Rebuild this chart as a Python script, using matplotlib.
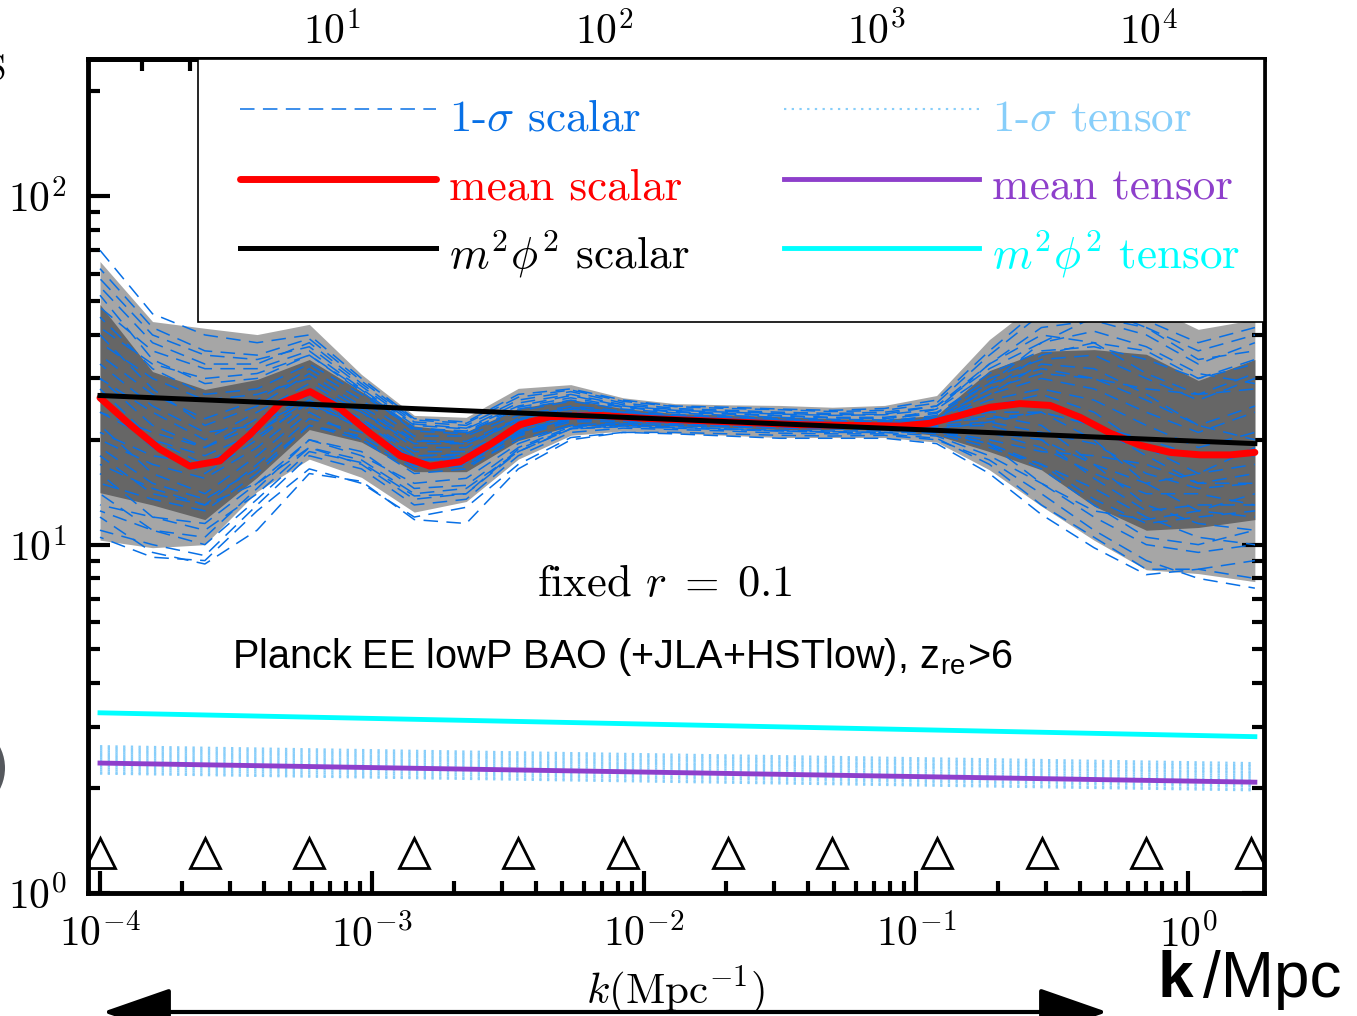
import matplotlib
matplotlib.use("Agg")
import matplotlib.pyplot as plt
from matplotlib.ticker import LogLocator, NullFormatter
from matplotlib.patches import Circle, FancyArrowPatch, Rectangle

plt.rcParams['mathtext.fontset'] = 'cm'

# k nodes (Mpc^-1) for the bands and the sample curves
k_nodes = [1.00e-4, 1.56e-4, 2.43e-4, 3.78e-4, 5.88e-4, 9.15e-4, 1.43e-3, 2.22e-3,
           3.45e-3, 5.38e-3, 8.37e-3, 1.30e-2, 2.03e-2, 3.16e-2, 4.92e-2, 7.66e-2,
           0.119, 0.186, 0.289, 0.451, 0.702, 1.09, 1.76]

# 2-sigma (light) and 1-sigma (dark) scalar bands
band2_hi = [65.0, 43.7, 41.8, 40.1, 42.9, 30.8, 23.5, 23.2, 28.1, 28.8, 26.4, 25.4,
            25.2, 25.1, 24.8, 25.1, 26.8, 38.8, 50.6, 52.2, 48.9, 41.5, 44.3]
band1_hi = [48.9, 31.4, 27.9, 29.8, 34.0, 27.5, 21.9, 21.1, 24.6, 26.1, 24.6, 23.8,
            23.6, 23.3, 23.0, 22.9, 23.5, 31.6, 35.9, 36.3, 35.2, 29.6, 34.0]
band1_lo = [14.1, 13.0, 11.8, 15.6, 21.4, 19.7, 16.2, 16.2, 19.9, 21.9, 22.0, 21.9,
            21.7, 21.4, 21.4, 21.3, 20.6, 18.5, 16.4, 12.9, 11.0, 11.2, 11.8]
band2_lo = [10.3, 9.8, 10.0, 14.2, 17.6, 15.6, 12.4, 13.3, 17.6, 20.6, 21.2, 20.9,
            20.6, 20.3, 20.3, 20.3, 19.7, 16.4, 12.9, 10.3, 8.47, 8.26, 7.83]

# individual scalar spectra (1-sigma scalar samples)
sample_01 = [70, 46, 40, 38, 40, 30, 23, 22.5, 27, 28, 26, 25, 24.8, 24.5, 24.3, 24.6, 26, 36, 48, 50, 44, 38, 42]
sample_02 = [10.5, 9.2, 9.0, 12.5, 16.5, 15.0, 12.0, 12.8, 17.0, 20.3, 21.0, 20.8, 20.5, 20.2, 20.2, 20.2, 19.5, 16.0, 12.2, 9.8, 8.2, 8.5, 8.0]
sample_03 = [30, 24, 20, 24, 29, 24, 19, 19, 23, 24.5, 23.8, 23.4, 23.0, 22.8, 22.4, 22.3, 23.0, 27, 30, 28, 24, 21, 24]
sample_04 = [22, 16, 14, 18, 24, 20, 16, 16.5, 20.5, 22.5, 22.6, 22.3, 22.0, 21.8, 21.6, 21.5, 21.5, 21, 19, 16, 14, 14, 13]
sample_05 = [45, 32, 27, 28, 33, 27, 21.5, 21, 24.5, 26, 24.8, 24.0, 23.7, 23.4, 23.1, 23.0, 23.8, 30, 34, 35, 30, 26, 30]
sample_06 = [15, 13.5, 12.5, 16, 22, 20, 16.5, 16.8, 20, 22, 22.2, 22.0, 21.8, 21.6, 21.5, 21.4, 20.8, 19, 17, 13.5, 11.5, 12, 12.5]
sample_07 = [40, 28, 22, 25, 31, 25, 20, 19.5, 22.5, 24, 23.5, 23.2, 22.8, 22.4, 22.0, 21.8, 21.2, 19.5, 15, 12, 10, 9.5, 10]
sample_08 = [13, 12, 11.5, 15, 20, 18, 15, 15.5, 19.5, 22, 22.4, 22.4, 22.3, 22.3, 22.4, 22.6, 24.5, 33, 42, 44, 40, 33, 38]
sample_09 = [12, 9.5, 8.8, 11, 16, 15.2, 11.8, 11.5, 16.5, 20, 21, 21, 20.8, 20.6, 20.5, 20.6, 20.0, 17.5, 14, 11, 9, 8, 7.5]
sample_10 = [55, 38, 33, 33, 38, 29, 22.5, 22, 26, 27.5, 25.5, 24.6, 24.3, 24.0, 23.8, 24.0, 25, 33, 40, 38, 31, 27, 28]
sample_11 = [26, 19, 16, 20, 26, 22, 17.5, 17.8, 21.5, 23.5, 23.3, 23.0, 22.7, 22.4, 22.1, 22.0, 22.6, 25, 27, 24, 19, 16, 17]
sample_12 = [18, 14, 13, 17, 23, 21, 17, 17.2, 21, 23, 23, 22.8, 22.5, 22.2, 22, 21.9, 22.2, 23.5, 22, 17, 13, 11.5, 11]
sample_13 = [35, 27, 23, 26, 32, 26, 20.5, 20.5, 23.5, 25, 24.2, 23.6, 23.3, 23.0, 22.7, 22.5, 23.2, 28, 31, 30, 26, 22, 20]
sample_14 = [17, 14.5, 13, 15, 19, 17.5, 14, 14.5, 18.5, 21.5, 22, 21.8, 21.5, 21.2, 21.0, 21.0, 20.5, 18, 15, 12.5, 11.8, 12.5, 14]
sample_15 = [48, 36, 32, 32, 36, 28, 22, 21.5, 25, 26.8, 25, 24.3, 24, 23.7, 23.5, 23.6, 24.5, 31, 36, 37, 34, 30, 34]
sample_16 = [24, 21, 19, 22, 27, 23, 18.5, 18.5, 22, 24, 23.6, 23.2, 22.8, 22.5, 22.2, 22.1, 22.0, 22.5, 21, 19.5, 16, 14.5, 15]
sample_17 = [11, 10, 9.3, 13, 18, 16.5, 13, 13.5, 18, 21, 21.6, 21.4, 21.2, 20.9, 20.8, 20.8, 20.2, 17, 13, 10.5, 8.5, 8.5, 9]
sample_18 = [30, 22, 19, 23, 28, 24, 19.5, 19.5, 22.8, 24.6, 24, 23.5, 23.2, 22.9, 22.6, 22.6, 23.5, 29, 38, 45, 42, 36, 40]
sample_19 = [20, 17, 15.5, 19, 25, 22, 17.5, 17.8, 21.2, 23.2, 23.1, 22.9, 22.6, 22.3, 22.0, 21.9, 21.8, 22, 20, 15.5, 12.5, 13, 13]
sample_20 = [62, 42, 36, 35, 39, 29.5, 22.8, 22.3, 26.5, 27.8, 25.8, 24.9, 24.6, 24.4, 24.1, 24.3, 25.5, 35, 46, 48, 42, 34, 36]
sample_21 = [38, 30, 26, 27, 30, 24.5, 19.8, 19.8, 23, 24.8, 24.0, 23.4, 23.0, 22.7, 22.4, 22.2, 22.8, 26, 28, 26, 22, 19, 21]
sample_22 = [14, 11, 10.5, 14.5, 20, 18.5, 14.5, 14.8, 19, 21.8, 22.2, 22.1, 21.9, 21.7, 21.6, 21.6, 21.5, 21, 20, 17, 15, 16, 19]
sample_23 = [52, 34, 29, 30, 35, 27.5, 21.2, 20.8, 24.2, 25.8, 24.5, 23.9, 23.5, 23.2, 22.9, 22.8, 22.5, 23, 24, 20, 15, 12.5, 12]
sample_24 = [21, 18, 17, 20.5, 25.5, 21.5, 17.5, 17.5, 21, 23, 23, 22.7, 22.4, 22.1, 21.9, 21.8, 22.6, 27, 33, 32, 27, 22, 25]
sample_25 = [28, 20, 17, 21, 27, 23, 18, 18.2, 21.8, 23.8, 23.4, 23.1, 22.8, 22.5, 22.2, 22.1, 23.0, 28, 35, 38, 36, 30, 33]
sample_26 = [16, 12, 11, 14, 19, 17, 13.5, 14, 18.5, 21.5, 21.8, 21.6, 21.4, 21.2, 21.1, 21.0, 21.0, 19.5, 17, 14.5, 12, 10.5, 10]
sample_27 = [42, 33, 30, 31, 35, 27.8, 21.6, 21.2, 24.8, 26.4, 24.9, 24.1, 23.8, 23.5, 23.2, 23.2, 24.0, 29, 32, 30, 28, 27, 31]
sample_28 = [33, 25, 21, 22, 26, 22.5, 18, 18, 21.5, 23.6, 23.4, 23.0, 22.7, 22.4, 22.1, 22.0, 22.4, 24, 24, 22, 20, 18, 18]
sample_29 = [19, 15, 13.5, 16.5, 22, 20.5, 16.8, 17, 20.8, 22.8, 22.8, 22.6, 22.3, 22.0, 21.8, 21.7, 21.2, 20, 18.5, 18, 17, 15, 16]
sample_30 = [58, 40, 35, 34, 37, 28.5, 22.2, 21.6, 25.5, 27.0, 25.2, 24.4, 24.1, 23.8, 23.6, 23.7, 25.0, 32, 38, 41, 37, 31, 29]
sample_31 = [12.5, 11, 10, 13.5, 18.5, 17.2, 13.8, 14, 18.8, 21.6, 21.9, 21.7, 21.5, 21.3, 21.2, 21.2, 21.4, 22.5, 24, 22, 18, 15, 15]
sample_32 = [24, 20, 18, 21, 26, 22, 17.6, 17.4, 20.6, 22.8, 23.0, 22.8, 22.5, 22.2, 22.0, 21.9, 21.2, 19.5, 16.5, 13, 10.5, 10, 11]
samples = [sample_01, sample_02, sample_03, sample_04, sample_05, sample_06, sample_07, sample_08,
           sample_09, sample_10, sample_11, sample_12, sample_13, sample_14, sample_15, sample_16,
           sample_17, sample_18, sample_19, sample_20, sample_21, sample_22, sample_23, sample_24,
           sample_25, sample_26, sample_27, sample_28, sample_29, sample_30, sample_31, sample_32]
dash_offsets = [0, 7, 3, 11, 5, 13, 1, 9, 4, 12, 6, 2, 10, 8, 14, 3.5,
                0.5, 7.5, 11.5, 5.5, 9.5, 13.5, 2.5, 6.5, 1.5, 8.5, 12.5, 4.5, 10.5, 14.5, 6, 2]

# mean scalar spectrum
k_mean = [1.00e-4, 1.29e-4, 1.66e-4, 2.14e-4, 2.76e-4, 3.56e-4, 4.59e-4, 5.92e-4, 7.62e-4,
          9.83e-4, 1.27e-3, 1.63e-3, 2.11e-3, 2.72e-3, 3.50e-3, 4.51e-3, 6.89e-3, 1.05e-2,
          1.61e-2, 2.45e-2, 3.75e-2, 5.72e-2, 8.73e-2, 0.112, 0.145, 0.187, 0.241, 0.311,
          0.401, 0.517, 0.666, 0.859, 1.11, 1.43, 1.76]
mean_scalar = [26.4, 22.1, 18.8, 16.8, 17.4, 20.7, 25.4, 27.5, 24.6, 20.9, 18.0, 16.8, 17.3,
               19.4, 22.1, 23.3, 23.5, 23.0, 22.7, 22.4, 22.1, 22.0, 21.9, 22.3, 23.5, 24.8,
               25.4, 25.1, 23.2, 20.9, 19.3, 18.4, 18.1, 18.1, 18.4]

# m^2 phi^2 model and tensor spectra (power laws, given at the two ends)
k_ends = [1.0e-4, 1.76]
m2phi2_scalar = [26.8, 19.5]
m2phi2_tensor = [3.29, 2.81]
mean_tensor = [2.36, 2.08]
tensor_sigma_start = [2.20, 2.22, 2.25, 2.28, 2.31, 2.34, 2.37, 2.40, 2.43, 2.46,
                      2.49, 2.52, 2.55, 2.58, 2.61, 2.64]
tensor_sigma_end = [1.97, 1.99, 2.02, 2.04, 2.07, 2.10, 2.12, 2.15, 2.18, 2.21,
                    2.23, 2.26, 2.28, 2.31, 2.33, 2.36]

# knot positions (triangles)
knots = [1.0e-4, 2.43e-4, 5.88e-4, 1.43e-3, 3.45e-3, 8.37e-3, 2.03e-2, 4.92e-2, 0.119, 0.290, 0.702, 1.70]
knot_level = [1.30] * len(knots)

BLUE = '#0870E6'
PURPLE = '#8E3FCB'

fig = plt.figure(figsize=(13.57, 10.16), dpi=100)
ax = fig.add_axes([0.0648, 0.1211, 0.8666, 0.8209])
ax.set_xscale('log')
ax.set_yscale('log')

ax.fill_between(k_nodes, band2_lo, band2_hi, color='#A6A6A6', lw=0, zorder=1)
ax.fill_between(k_nodes, band1_lo, band1_hi, color='#666666', lw=0, zorder=2)

sample_lines = []
for s, off in zip(samples, dash_offsets):
    ln, = ax.plot(k_nodes, s, color=BLUE, lw=1.1, ls=(off, (9.5, 5.5)), zorder=3)
    sample_lines.append(ln)

tensor_lines = []
for a, b in zip(tensor_sigma_start, tensor_sigma_end):
    ln, = ax.plot(k_ends, [a, b], color='#87CEFA', lw=1.5, ls=(0, (1.1, 2.6)), zorder=3)
    tensor_lines.append(ln)

red, = ax.plot(k_mean, mean_scalar, color='red', lw=5, zorder=5, solid_capstyle='round')
blk, = ax.plot(k_ends, m2phi2_scalar, color='black', lw=3.6, zorder=6)
pur, = ax.plot(k_ends, mean_tensor, color=PURPLE, lw=3.5, zorder=5)
cya, = ax.plot(k_ends, m2phi2_tensor, color='cyan', lw=3.5, zorder=5)

ax.plot(knots, knot_level, ls='none', marker='^', ms=21.5, mfc='none', mec='black', mew=2.0, zorder=6)

ax.set_xlim(9.03e-5, 1.90)
ax.set_ylim(1, 248)

for sp in ax.spines.values():
    sp.set_linewidth(3.5)
ax.set_xticks([1e-4, 1e-3, 1e-2, 1e-1, 1],
              labels=[r'$10^{-4}$', r'$10^{-3}$', r'$10^{-2}$', r'$10^{-1}$', r'$10^{0}$'])
ax.set_yticks([1, 10, 100], labels=[r'$10^{0}$', r'$10^{1}$', r'$10^{2}$'])
ax.xaxis.set_minor_locator(LogLocator(10, subs=range(2, 10), numticks=30))
ax.yaxis.set_minor_locator(LogLocator(10, subs=range(2, 10), numticks=30))
ax.xaxis.set_minor_formatter(NullFormatter())
ax.yaxis.set_minor_formatter(NullFormatter())
ax.tick_params(which='major', direction='in', length=16, width=3, labelsize=30,
               right=True, top=False)
ax.tick_params(which='minor', direction='in', length=8.5, width=3, right=True, top=False)
ax.tick_params(axis='x', which='major', pad=15)
ax.tick_params(axis='y', which='major', pad=15)

secax = ax.secondary_xaxis('top', functions=(lambda k: k * 14000.0, lambda l: l / 14000.0))
secax.set_xticks([10, 100, 1000, 10000],
                 labels=[r'$10^{1}$', r'$10^{2}$', r'$10^{3}$', r'$10^{4}$'])
secax.xaxis.set_minor_locator(LogLocator(10, subs=range(2, 10), numticks=30))
secax.xaxis.set_minor_formatter(NullFormatter())
secax.tick_params(which='major', direction='in', length=16, width=3, labelsize=30, pad=4)
secax.tick_params(which='minor', direction='in', length=8.5, width=3)
secax.spines['top'].set_linewidth(3.5)

# legend box drawn separately so its size matches the original frame
ax.add_patch(Rectangle((0.0935, 0.6847), 0.9065, 0.3153, transform=ax.transAxes,
                       facecolor='white', edgecolor='black', lw=1.2, zorder=9))
handles = [sample_lines[0], red, blk, tensor_lines[0], pur, cya]
labels = ['1-$\\sigma$ scalar', 'mean scalar', '$m^2\\phi^2$ scalar',
          '1-$\\sigma$ tensor', 'mean tensor', '$m^2\\phi^2$ tensor']
leg = ax.legend(handles, labels, ncol=2, mode='expand', loc='upper left',
                bbox_to_anchor=(0.1046, 0.6847, 0.9005, 0.3153), borderaxespad=0,
                prop=dict(family='cmr10', size=32.5), handlelength=4.33, handletextpad=0.29,
                handleheight=1.5, labelspacing=0.31, borderpad=0.65, frameon=False,
                labelcolor='linecolor')
leg.set_zorder(10)

ax.text(0.4906, 0.3561, 'fixed $r\\;=\\;0.1$', family='cmr10', fontsize=32,
        ha='center', va='baseline', transform=ax.transAxes)
ax.text(0.1224, 0.2698, 'Planck EE lowP BAO (+JLA+HSTlow), z$_\\mathregular{re}$>6',
        family='Liberation Sans', fontsize=28.5, ha='left', va='baseline',
        transform=ax.transAxes)

# pieces around the plot frame
fig.text(676 / 1357, 12 / 1016, r'$k(\mathrm{Mpc}^{-1})$', fontsize=31,
         ha='center', va='baseline')
fig.text(1158 / 1357, 19 / 1016, 'k', family='Liberation Sans', weight='bold',
         fontsize=46, ha='left', va='baseline')
fig.text(1203 / 1357, 19 / 1016, '/Mpc', family='Liberation Sans',
         fontsize=46, ha='left', va='baseline')
fig.text(6 / 1357, (1016 - 80) / 1016, 'S', family='cmr10', fontsize=25,
         ha='right', va='baseline')
fig.add_artist(Circle((-0.41, 2.48), 0.46, transform=fig.dpi_scale_trans,
                      color='#55585D', lw=0))
fig.add_artist(FancyArrowPatch((100 / 1357, 4 / 1016), (1110 / 1357, 4 / 1016),
                               transform=fig.transFigure,
                               arrowstyle='<|-|>,head_length=43,head_width=15',
                               color='black', lw=3))

fig.savefig('out.png', dpi=100)
